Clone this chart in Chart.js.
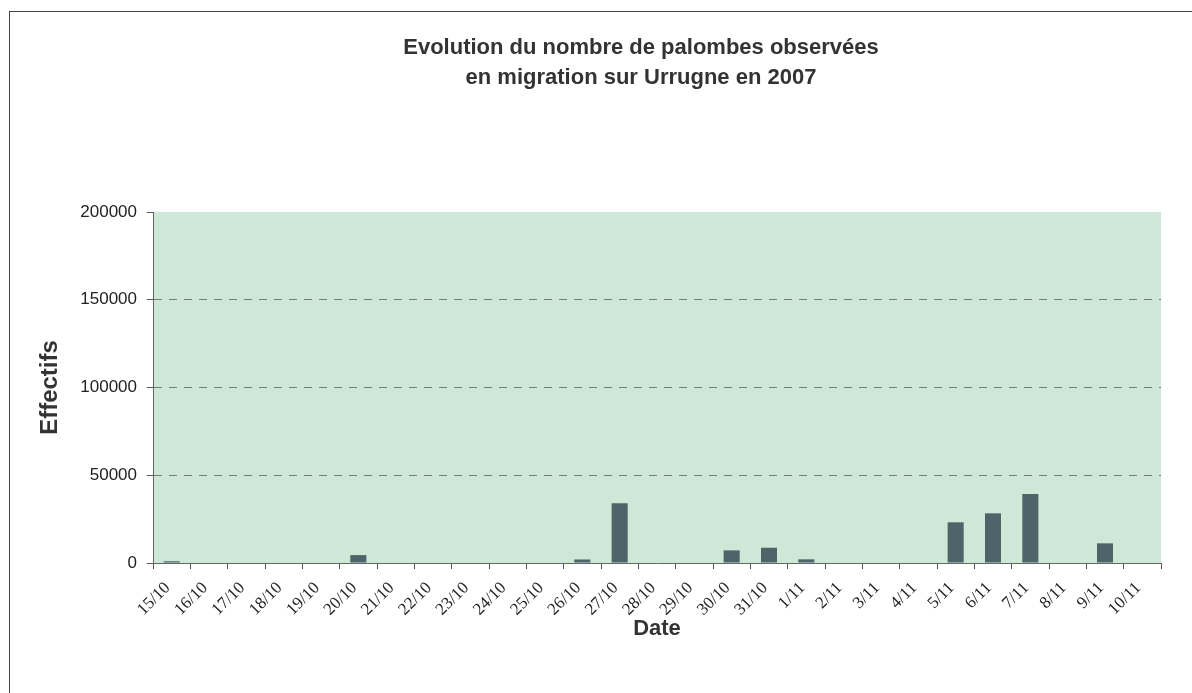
<!DOCTYPE html>
<html>
<head>
<meta charset="utf-8">
<script src="https://cdn.jsdelivr.net/npm/chart.js@4/dist/chart.umd.min.js"></script>
<style>
  html, body { margin: 0; padding: 0; background: #fff; overflow: hidden; }
  #frame { position: absolute; left: 9px; top: 11px; width: 1400px; height: 900px; border: 1px solid #444; box-sizing: border-box; }
  #wrap { position: absolute; left: 0; top: 0; width: 1192px; height: 693px; }
</style>
</head>
<body>
<div id="frame"></div>
<div id="wrap"><canvas id="chart"></canvas></div>
<script>
'use strict';

// données
const jours    = ['15/10', '16/10', '17/10', '18/10', '19/10', '20/10', '21/10', '22/10', '23/10',
                  '24/10', '25/10', '26/10', '27/10', '28/10', '29/10', '30/10', '31/10',
                  '1/11', '2/11', '3/11', '4/11', '5/11', '6/11', '7/11', '8/11', '9/11', '10/11'];
const effectifs = [1000, 0, 0, 0, 0, 4500, 0, 0, 0,
                   0, 0, 2000, 34000, 0, 0, 7200, 8700,
                   2100, 0, 0, 0, 23200, 28300, 39300, 0, 11200, 0];
const yTicks   = [0, 50000, 100000, 150000, 200000];
const titre    = ['Evolution du nombre de palombes observées', 'en migration sur Urrugne en 2007'];

const SANS  = '"Liberation Sans", Arial, sans-serif';
const SERIF = '"Liberation Serif", "Times New Roman", serif';

// fond vert de la zone de tracé + titre centré
const plotBg = {
    id: 'plotBg',
    beforeDraw(chart) {
        const { ctx, chartArea: a } = chart;
        ctx.save();
        ctx.fillStyle = '#cde8d7';
        ctx.fillRect(a.left, a.top, a.right - a.left, a.bottom - a.top);
        ctx.restore();
    },
    afterDraw(chart) {
        const ctx = chart.ctx;
        ctx.save();
        ctx.fillStyle = '#333';
        ctx.font = 'bold 22px ' + SANS;
        ctx.textAlign = 'center';
        ctx.textBaseline = 'middle';
        titre.forEach((t, i) => ctx.fillText(t, 641, 48 + i * 30));
        ctx.restore();
    }
};

new Chart(document.getElementById('chart'), {
    type: 'bar',
    data: {
        labels: jours,
        datasets: [{ label: 'Effectifs', data: effectifs, backgroundColor: '#4d6569', borderWidth: 0,
                     categoryPercentage: 1, barPercentage: 0.43 }]
    },
    options: {
        responsive: true,
        maintainAspectRatio: false,
        animation: false,
        layout: { padding: { top: 212, right: 31, left: 0, bottom: 0 } },
        plugins: { legend: { display: false }, title: { display: false }, tooltip: { enabled: false } },
        scales: {
            x: {
                afterFit: s => { s.height = 130; },
                grid: { offset: true, drawOnChartArea: false, drawTicks: true, tickLength: 6, tickColor: '#555' },
                border: { color: '#666', width: 1 },
                ticks: { autoSkip: false, minRotation: 45, maxRotation: 45, labelOffset: -4, padding: 9,
                         color: '#222', font: { family: SERIF, size: 17 } },
                title: { display: true, text: 'Date', color: '#333', padding: { bottom: 51 },
                         font: { family: SANS, size: 22, weight: 'bold' } }
            },
            y: {
                min: 0, max: 200000,
                afterFit: s => { s.width = 153; },
                afterBuildTicks: s => { s.ticks = yTicks.map(v => ({ value: v })); },
                grid: {
                    color: c => (c.tick.value === 0 || c.tick.value === 200000) ? 'rgba(0,0,0,0)' : '#7a7a7a',
                    drawTicks: true, tickLength: 6, tickColor: '#555', tickBorderDash: []
                },
                border: { color: '#666', width: 1, dash: [8, 7] },
                ticks: { padding: 10, color: '#222', font: { family: SANS, size: 17 },
                         callback: v => String(v) },
                title: { display: true, text: 'Effectifs', color: '#333', padding: { top: 36 },
                         font: { family: SANS, size: 24, weight: 'bold' } }
            }
        }
    },
    plugins: [plotBg]
});
</script>
</body>
</html>
